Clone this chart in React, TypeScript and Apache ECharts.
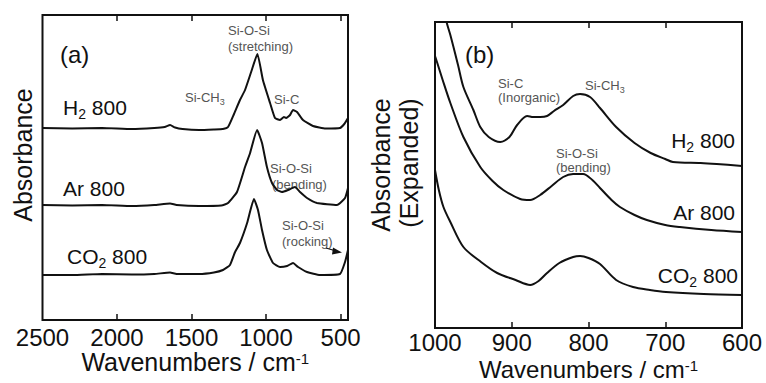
import React, { useEffect, useRef } from "react";
import * as echarts from "echarts";

// ---- Panel (a): full-range spectra  [wavenumber (cm-1), absorbance (a.u., offset)]
const h2Survey: [number, number][] = [
  [2500, 1.92], [2300, 1.915], [2100, 1.92], [1900, 1.91], [1750, 1.92], [1680, 1.93],
  [1644, 1.95], [1610, 1.925], [1560, 1.91], [1450, 1.9], [1350, 1.905], [1290, 1.91],
  [1255, 1.93], [1215, 2.06], [1175, 2.2], [1141, 2.3], [1100, 2.48], [1058, 2.66],
  [1021, 2.4], [973, 2.17], [940, 2.02], [906, 2.0], [880, 2.03], [866, 2.02], [839, 2.05],
  [819, 2.1], [792, 2.08], [752, 2.0], [685, 1.94], [600, 1.915], [504, 1.92], [475, 1.96],
  [450, 2.02],
];
const arSurvey: [number, number][] = [
  [2500, 1.15], [2300, 1.145], [2100, 1.15], [1900, 1.14], [1750, 1.15], [1644, 1.165],
  [1600, 1.15], [1450, 1.14], [1300, 1.145], [1255, 1.17], [1195, 1.28], [1141, 1.53],
  [1107, 1.67], [1060, 1.9], [1027, 1.77], [994, 1.53], [960, 1.37], [926, 1.3],
  [893, 1.28], [852, 1.3], [806, 1.33], [772, 1.28], [725, 1.22], [658, 1.17], [524, 1.15],
  [470, 1.22], [450, 1.32],
];
const co2Survey: [number, number][] = [
  [2500, 0.45], [2300, 0.45], [2100, 0.46], [1900, 0.455], [1750, 0.46], [1644, 0.475],
  [1600, 0.46], [1450, 0.46], [1350, 0.475], [1289, 0.5], [1242, 0.55], [1208, 0.68],
  [1175, 0.77], [1127, 0.97], [1081, 1.21], [1054, 1.1], [1027, 0.9], [994, 0.7],
  [953, 0.57], [906, 0.53], [859, 0.54], [819, 0.57], [785, 0.53], [725, 0.48], [638, 0.45],
  [504, 0.46], [470, 0.58], [450, 0.7],
];

// ---- Panel (b): expanded region
const h2Expanded: [number, number][] = [
  [1000, 3.56], [990, 3.23], [985, 3.06], [980, 2.93], [970, 2.63], [963, 2.41], [950, 2.18],
  [941, 2.01], [930, 1.91], [915, 1.86], [903, 1.91], [893, 2.03], [880, 2.12], [872, 2.11],
  [863, 2.11], [854, 2.12], [845, 2.17], [833, 2.23], [820, 2.32], [811, 2.34], [798, 2.31],
  [785, 2.2], [764, 2.01], [740, 1.85], [719, 1.75], [700, 1.69], [690, 1.66], [654, 1.65],
  [633, 1.64], [600, 1.62],
];
const arExpanded: [number, number][] = [
  [1000, 2.72], [997, 2.65], [990, 2.48], [980, 2.25], [963, 1.91], [941, 1.61], [925, 1.47],
  [911, 1.38], [889, 1.29], [876, 1.28], [863, 1.33], [848, 1.42], [833, 1.51], [820, 1.54],
  [807, 1.54], [795, 1.48], [785, 1.4], [770, 1.28], [759, 1.21], [740, 1.13], [724, 1.08],
  [700, 1.03], [681, 1.01], [640, 0.98], [600, 0.96],
];
const co2Expanded: [number, number][] = [
  [1000, 1.58], [995, 1.38], [989, 1.21], [980, 1.06], [963, 0.81], [940, 0.66], [919, 0.55],
  [895, 0.48], [876, 0.43], [865, 0.47], [854, 0.55], [838, 0.65], [820, 0.71], [811, 0.72],
  [800, 0.7], [785, 0.64], [764, 0.48], [742, 0.41], [720, 0.38], [699, 0.36], [650, 0.34],
  [600, 0.33],
];

const ticksA = [2500, 2000, 1500, 1000, 500];
const ticksB = [1000, 900, 800, 700, 600];

const FONT = "'Liberation Sans', Arial, Helvetica, sans-serif";
const INK = "#111";
const GRAY = "#555";

const nameRichA = {
  a: { fontSize: 25, fontFamily: FONT, color: INK, lineHeight: 22 },
  s: { fontSize: 15, fontFamily: FONT, color: INK, verticalAlign: "top", lineHeight: 12 },
};
const nameRichB = {
  a: { fontSize: 24, fontFamily: FONT, color: INK, lineHeight: 22 },
  s: { fontSize: 15, fontFamily: FONT, color: INK, verticalAlign: "top", lineHeight: 12 },
};

const bigRich = {
  a: { fontSize: 21, fontFamily: FONT, fill: INK, color: INK, lineHeight: 24 },
  s: { fontSize: 14, fontFamily: FONT, fill: INK, color: INK, lineHeight: 10, padding: [14, 0, 0, 0] },
};
const smallRich = {
  g: { fontSize: 13, fontFamily: FONT, fill: GRAY, color: GRAY, lineHeight: 15 },
  gs: { fontSize: 9, fontFamily: FONT, fill: GRAY, color: GRAY, lineHeight: 6, padding: [9, 0, 0, 0] },
};

function bigLabel(text: string, x: number, y: number, align: string) {
  return {
    type: "text",
    x,
    y,
    style: { text, rich: bigRich, align, verticalAlign: "middle", fontSize: 21, fontFamily: FONT, fill: INK },
  };
}
function smallLabel(text: string, x: number, y: number) {
  return {
    type: "text",
    x,
    y,
    style: { text, rich: smallRich, align: "left", verticalAlign: "middle", fontSize: 13, fontFamily: FONT, fill: GRAY },
  };
}
function plainText(text: string, x: number, y: number, size: number, rotation = 0, align = "left") {
  return {
    type: "text",
    x,
    y,
    rotation,
    style: { text, align, verticalAlign: "middle", fontSize: size, fontFamily: FONT, fill: INK },
  };
}

function lineSeries(data: [number, number][], axis: number, smooth: number) {
  return {
    type: "line",
    xAxisIndex: axis === 0 ? 0 : 2,
    yAxisIndex: axis,
    data,
    symbol: "none",
    smooth,
    clip: true,
    lineStyle: { color: INK, width: 2 },
  };
}

const plainNumber = (v: number) => String(v);

export default function App() {
  const ref = useRef<HTMLDivElement>(null);
  useEffect(() => {
    if (!ref.current) return;
    const chart = echarts.init(ref.current, undefined, { renderer: "svg" });
    const tickStyle = { color: INK, width: 1.5 };
    const option: any = {
      animation: false,
      backgroundColor: "#ffffff",
      grid: [
        { left: 42.5, top: 15, width: 305.5, height: 305, show: true, borderColor: INK, borderWidth: 2, backgroundColor: "transparent", outerBoundsMode: "none", containLabel: false },
        { left: 435, top: 22, width: 307, height: 306, show: true, borderColor: INK, borderWidth: 2, backgroundColor: "transparent", outerBoundsMode: "none", containLabel: false },
      ],
      xAxis: [
        {
          gridIndex: 0, type: "value", min: 450, max: 2500, inverse: true, position: "bottom",
          axisLine: { show: false },
          axisTick: { show: true, inside: true, length: 6, lineStyle: tickStyle, customValues: ticksA.slice(1) },
          axisLabel: { customValues: ticksA, fontSize: 24, lineHeight: 20, color: INK, fontFamily: FONT, margin: 7, formatter: plainNumber },
          splitLine: { show: false },
          name: "{a|Wavenumbers / cm}{s|-1}", nameLocation: "middle", nameGap: 31, nameMoveOverlap: false,
          nameTextStyle: { rich: nameRichA },
        },
        {
          gridIndex: 0, type: "value", min: 450, max: 2500, inverse: true, position: "top",
          axisLine: { show: false },
          axisTick: { show: true, inside: true, length: 6, lineStyle: tickStyle, customValues: ticksA.slice(1) },
          axisLabel: { show: false },
          splitLine: { show: false },
        },
        {
          gridIndex: 1, type: "value", min: 600, max: 1000, interval: 100, inverse: true, position: "bottom",
          axisLine: { show: false },
          axisTick: { show: true, inside: true, length: 6, lineStyle: tickStyle },
          axisLabel: { customValues: ticksB, fontSize: 24, lineHeight: 20, color: INK, fontFamily: FONT, margin: 4, formatter: plainNumber },
          splitLine: { show: false },
          name: "{a|Wavenumbers / cm}{s|-1}", nameLocation: "middle", nameGap: 30, nameMoveOverlap: false,
          nameTextStyle: { rich: nameRichB },
        },
        {
          gridIndex: 1, type: "value", min: 600, max: 1000, interval: 100, inverse: true, position: "top",
          axisLine: { show: false },
          axisTick: { show: true, inside: true, length: 6, lineStyle: tickStyle },
          axisLabel: { show: false },
          splitLine: { show: false },
        },
      ],
      yAxis: [
        { gridIndex: 0, type: "value", min: 0, max: 3.05, show: false },
        { gridIndex: 1, type: "value", min: 0, max: 3.06, show: false },
      ],
      series: [
        lineSeries(h2Survey, 0, 0.15),
        lineSeries(arSurvey, 0, 0.15),
        lineSeries(co2Survey, 0, 0.15),
        lineSeries(h2Expanded, 1, 0.3),
        lineSeries(arExpanded, 1, 0.3),
        lineSeries(co2Expanded, 1, 0.3),
      ],
      graphic: [
        plainText("Absorbance", 23, 155, 25, Math.PI / 2, "center"),
        plainText("Absorbance", 381, 165, 25, Math.PI / 2, "center"),
        plainText("(Expanded)", 409, 163, 25, Math.PI / 2, "center"),
        plainText("(a)", 60, 54, 24),
        plainText("(b)", 465, 54, 24),
        bigLabel("{a|H}{s|2}{a| 800}", 63, 107, "left"),
        bigLabel("{a|Ar 800}", 63, 188, "left"),
        bigLabel("{a|CO}{s|2}{a| 800}", 67, 256, "left"),
        bigLabel("{a|H}{s|2}{a| 800}", 735, 140, "right"),
        bigLabel("{a|Ar 800}", 735, 212, "right"),
        bigLabel("{a|CO}{s|2}{a| 800}", 738, 275, "right"),
        smallLabel("{g|Si-O-Si}", 228, 30),
        smallLabel("{g|(stretching)}", 228, 46),
        smallLabel("{g|Si-CH}{gs|3}", 185, 97),
        smallLabel("{g|Si-C}", 274, 99),
        smallLabel("{g|Si-O-Si}", 270, 168),
        smallLabel("{g|(bending)}", 272, 184),
        smallLabel("{g|Si-O-Si}", 282, 225),
        smallLabel("{g|(rocking)}", 282, 241),
        smallLabel("{g|Si-C}", 498, 83),
        smallLabel("{g|(Inorganic)}", 498, 97),
        smallLabel("{g|Si-CH}{gs|3}", 585, 85),
        smallLabel("{g|Si-O-Si}", 556, 153),
        smallLabel("{g|(bending)}", 556, 167),
        {
          type: "line",
          shape: { x1: 326, y1: 248, x2: 336, y2: 251 },
          style: { stroke: INK, lineWidth: 1.2 },
        },
        {
          type: "polygon",
          shape: { points: [[333, 247.5], [342, 252.5], [332, 254.5]] },
          style: { fill: INK },
        },
      ],
    };
    chart.setOption(option);
    return () => chart.dispose();
  }, []);
  return (
    <div
      ref={ref}
      style={{ position: "fixed", left: 0, top: 0, width: 766, height: 383, background: "#fff" }}
    />
  );
}
